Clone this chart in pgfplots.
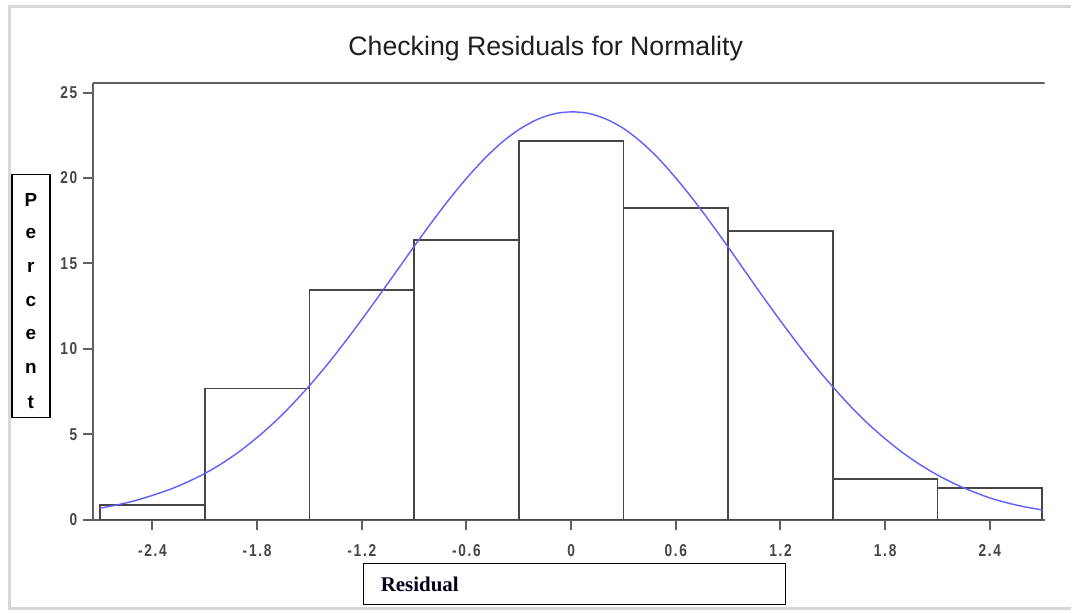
\documentclass[border=0pt]{standalone}
\usepackage{pgfplots}
\pgfplotsset{compat=1.18}
\usepackage{fontspec}
\setmainfont{Liberation Sans}
\newfontfamily\tickfont{Liberation Sans}[FakeStretch=0.8, LetterSpace=10]
\newfontfamily\serifbold{Liberation Serif}
\definecolor{axisgray}{RGB}{95,95,95}
\definecolor{bargray}{RGB}{70,70,70}
\definecolor{ticktext}{RGB}{70,70,70}
\definecolor{curveblue}{RGB}{95,95,250}
\definecolor{framegray}{RGB}{215,215,215}

\begin{document}
\begin{tikzpicture}
% page and decorations, in pixel units of the reference (y runs down)
\begin{scope}[x=0.5pt, y=-0.5pt]
  \fill[white] (0,0) rectangle (1072,615);
  \draw[framegray, line width=1.5pt] (1075,7) -- (10,7) -- (10,611) -- (1075,611);
  \node[text=black!88, font=\fontsize{13.4}{15}\selectfont] at (548,49) {Checking Residuals for Normality};
  \draw[black, line width=0.75pt] (12,175) rectangle (50,419);
  \foreach \l [count=\i from 0] in {P,e,r,c,e,n,t}
    \node[font=\fontsize{9.5}{10}\selectfont\bfseries, inner sep=0pt] at (31,{201+\i*33.8}) {\l};
  \draw[black, line width=0.75pt] (365,566) rectangle (789,607);
  \node[anchor=base west, inner sep=0pt, font=\serifbold\fontsize{10.5}{12}\selectfont\bfseries, text=black!90!blue] at (382,594) {Residual};
\end{scope}

\begin{axis}[
  at={(46.5pt,-261pt)}, anchor=south west,
  scale only axis,
  width=478pt, height=219.5pt,
  xmin=-2.743, xmax=2.714,
  ymin=0, ymax=25.58,
  axis x line*=bottom, axis y line*=left,
  axis line style={axisgray, line width=1pt, -},
  tick align=outside,
  major tick length=5pt,
  tick style={axisgray, line width=1pt},
  xtick={-2.4,-1.8,-1.2,-0.6,0,0.6,1.2,1.8,2.4},
  xticklabels={-2.4,-1.8,-1.2,-0.6,0,0.6,1.2,1.8,2.4},
  ytick={0,5,10,15,20,25},
  yticklabels={0,5,10,15,20,25},
  tick label style={font=\tickfont\bfseries\fontsize{8.6}{10}\selectfont, text=ticktext},
  xticklabel style={yshift=-4pt},
  yticklabel style={xshift=0.8pt},
  /pgf/number format/assume math mode=true,
]
% histogram, bin edges
\addplot[ybar interval, draw=bargray, fill=none, line width=0.9pt] coordinates {
  (-2.7,0.89) (-2.1,7.69) (-1.5,13.46) (-0.9,16.39) (-0.3,22.16)
  (0.3,18.26) (0.9,16.88) (1.5,2.41) (2.1,1.85) (2.7,1.85)
};
% fitted normal curve
\addplot[curveblue, line width=0.7pt, smooth] coordinates {
  (-2.7,0.68) (-2.6,0.88) (-2.5,1.12) (-2.4,1.43) (-2.3,1.78) (-2.2,2.21)
  (-2.1,2.71) (-2.0,3.31) (-1.9,4.01) (-1.8,4.82) (-1.7,5.72) (-1.6,6.74)
  (-1.5,7.85) (-1.4,9.06) (-1.3,10.36) (-1.2,11.72) (-1.1,13.13) (-1.0,14.56)
  (-0.9,16.00) (-0.8,17.40) (-0.7,18.74) (-0.6,19.98) (-0.5,21.10) (-0.4,22.06)
  (-0.3,22.83) (-0.2,23.40) (-0.1,23.75) (0,23.87) (0.1,23.78) (0.2,23.45)
  (0.3,22.90) (0.4,22.12) (0.5,21.15) (0.6,20.00) (0.7,18.74) (0.8,17.38)
  (0.9,15.96) (1.0,14.50) (1.1,13.05) (1.2,11.64) (1.3,10.28) (1.4,8.98)
  (1.5,7.78) (1.6,6.66) (1.7,5.64) (1.8,4.74) (1.9,3.93) (2.0,3.23)
  (2.1,2.62) (2.2,2.10) (2.3,1.66) (2.4,1.28) (2.5,0.99) (2.6,0.76) (2.7,0.58)
};
\draw[axisgray, line width=1pt] (rel axis cs:0,1) -- (rel axis cs:1,1);
\end{axis}
\end{tikzpicture}
\end{document}
